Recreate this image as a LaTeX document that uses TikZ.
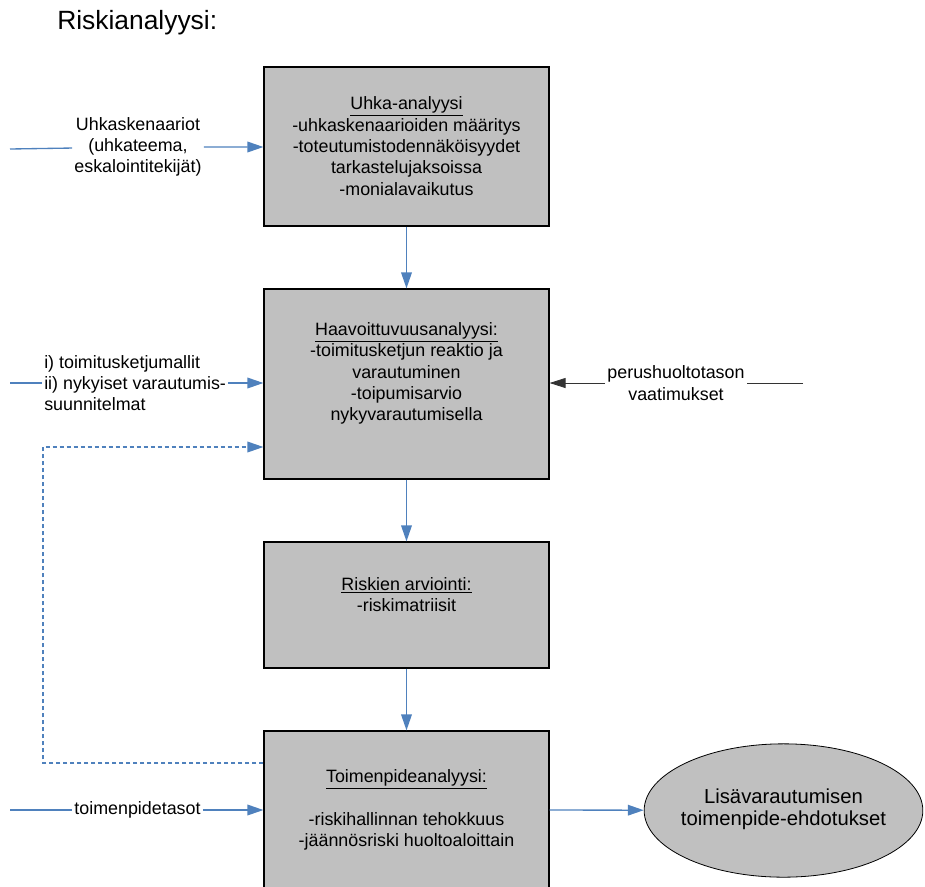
\documentclass[tikz,border=0pt]{standalone}
\usepackage{fontspec}
\setmainfont{Liberation Sans}
\usetikzlibrary{arrows.meta,shapes.geometric}
\definecolor{flowblue}{RGB}{79,129,189}
\definecolor{boxgray}{RGB}{192,192,192}
\begin{document}
\begin{tikzpicture}[x=0.75pt, y=-0.75pt,
  every node/.style={font=\fontsize{13.4}{16}\selectfont},
  stage/.style={draw=black, line width=0.9pt, fill=boxgray, minimum width=213.75pt, inner sep=0pt},
  stagetext/.style={align=center, inner sep=0pt},
  inputlabel/.style={inner sep=1.5pt},
  flow/.style={draw=flowblue, line width=1pt, -{Triangle[length=12pt,width=8pt]}},
  dashedflow/.style={flow, dash pattern=on 3pt off 2.25pt},
  requirement/.style={draw=black!80, line width=0.6pt, -{Triangle[length=12pt,width=7.5pt]}},
]
\useasboundingbox (0,0) rectangle (925,886);
\clip (0,0) rectangle (925,886);

% title
\node[anchor=base west, inner sep=0pt, font=\fontsize{19.8}{24}\selectfont] (title) at (57,29) {Riskianalyysi:};

% analysis stages
\node[stage, minimum height=119.25pt] (b1) at (406.5,146.5) {};
\node[stage, minimum height=142.5pt] (b2) at (406.5,384) {};
\node[stage, minimum height=94.5pt] (b3) at (406.5,605) {};
\node[stage, minimum height=118.5pt] (b4) at (406.5,810) {};

\node[stagetext] (t1) at (406.5,146) {\underline{Uhka-analyysi}\\-uhkaskenaarioiden määritys\\-toteutumistodennäköisyydet\\tarkastelujaksoissa\\-monialavaikutus};
\node[stagetext] (t2) at (406.5,373.5) {\underline{Haavoittuvuusanalyysi:}\\-toimitusketjun reaktio ja\\varautuminen\\-toipumisarvio\\nykyvarautumisella};
\node[stagetext] (t3) at (406.5,594.5) {\underline{Riskien arviointi:}\\-riskimatriisit};
\node[stagetext] (t4) at (406.5,810) {\underline{Toimenpideanalyysi:}\\\mbox{}\\-riskihallinnan tehokkuus\\-jäännösriski huoltoaloittain};

% result
\node[ellipse, draw=black, line width=0.6pt, fill=boxgray, minimum width=209pt, minimum height=100pt, inner sep=0pt] (ell) at (783.5,810.5) {};
\node[align=center, inner sep=0pt, font=\fontsize{15.2}{16.5}\selectfont] (elltext) at (783.5,809) {Lisävarautumisen\\toimenpide-ehdotukset};

% inputs
\node[inputlabel, align=center] (lab1) at (138,147) {Uhkaskenaariot\\(uhkateema,\\eskalointitekijät)};
\node[inputlabel, align=left, anchor=west] (lab2) at (42,383) {i) toimitusketjumallit\\ii) nykyiset varautumis-\\suunnitelmat};
\node[inputlabel, align=center] (lab3) at (676,383) {perushuoltotason\\vaatimukset};
\node[inputlabel] (lab4) at (137.5,810) {toimenpidetasot};

\coordinate (in1) at (10,149);
\coordinate (in2) at (10,383);
\coordinate (in3) at (803,383);
\coordinate (in4) at (10,810);
\coordinate (d1) at (43,763);
\coordinate (d2) at (43,447);

% connectors
\draw[flow] (b1) -- (b2);
\draw[flow] (b2) -- (b3);
\draw[flow] (b3) -- (b4);
\draw[flow] (b4.east) -- (ell);
\draw[flow] (in1) -- (lab1) -- (b1.west |- lab1);
\draw[flow] (in2) -- (lab2) -- (b2.west |- lab2);
\draw[requirement] (in3) -- (lab3) -- (b2.east |- lab3);
\draw[flow] (in4) -- (lab4) -- (b4.west |- lab4);
\draw[dashedflow] (b4.west |- d1) -- (d1) -- (d2) -- (b2.west |- d2);
\end{tikzpicture}
\end{document}
